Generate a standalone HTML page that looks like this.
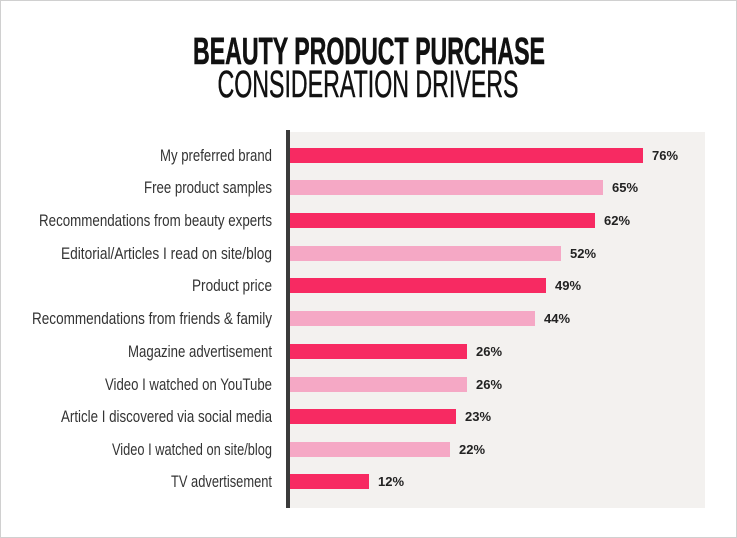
<!DOCTYPE html>
<html><head><style>body{margin:0;background:#fff}svg{display:block}</style></head><body>
<svg width="737" height="538" xmlns="http://www.w3.org/2000/svg">
<rect x="0.5" y="0.5" width="736" height="537" fill="#fff" stroke="#d0d0d0"/>
<text x="369" y="64" text-anchor="middle" font-family="Liberation Sans" font-weight="bold" font-size="38" textLength="352" lengthAdjust="spacingAndGlyphs" fill="#111" stroke="#111" stroke-width="0.6">BEAUTY PRODUCT PURCHASE</text>
<text x="368" y="97" text-anchor="middle" font-family="Liberation Sans" font-size="38" textLength="301" lengthAdjust="spacingAndGlyphs" fill="#111" stroke="#111" stroke-width="0.5">CONSIDERATION DRIVERS</text>
<rect x="290" y="132" width="415" height="376" fill="#f3f1ef"/>
<rect x="286" y="130" width="4" height="378" fill="#3a3a3a"/>
<g font-family="Liberation Sans" font-size="17" fill="#333" text-anchor="end">
<text x="272" y="161" textLength="112" lengthAdjust="spacingAndGlyphs">My preferred brand</text>
<text x="272" y="193" textLength="128" lengthAdjust="spacingAndGlyphs">Free product samples</text>
<text x="272" y="226" textLength="233" lengthAdjust="spacingAndGlyphs">Recommendations from beauty experts</text>
<text x="272" y="259" textLength="211" lengthAdjust="spacingAndGlyphs">Editorial/Articles I read on site/blog</text>
<text x="272" y="291" textLength="80" lengthAdjust="spacingAndGlyphs">Product price</text>
<text x="272" y="324" textLength="240" lengthAdjust="spacingAndGlyphs">Recommendations from friends &amp; family</text>
<text x="272" y="357" textLength="144" lengthAdjust="spacingAndGlyphs">Magazine advertisement</text>
<text x="272" y="390" textLength="167" lengthAdjust="spacingAndGlyphs">Video I watched on YouTube</text>
<text x="272" y="422" textLength="211" lengthAdjust="spacingAndGlyphs">Article I discovered via social media</text>
<text x="272" y="455" textLength="160" lengthAdjust="spacingAndGlyphs">Video I watched on site/blog</text>
<text x="272" y="487" textLength="101" lengthAdjust="spacingAndGlyphs">TV advertisement</text>
</g>
<g>
<rect x="290" y="148" width="353" height="15" fill="#f72a62"/>
<rect x="290" y="180" width="313" height="15" fill="#f5a8c5"/>
<rect x="290" y="213" width="305" height="15" fill="#f72a62"/>
<rect x="290" y="246" width="271" height="15" fill="#f5a8c5"/>
<rect x="290" y="278" width="256" height="15" fill="#f72a62"/>
<rect x="290" y="311" width="245" height="15" fill="#f5a8c5"/>
<rect x="290" y="344" width="177" height="15" fill="#f72a62"/>
<rect x="290" y="377" width="177" height="15" fill="#f5a8c5"/>
<rect x="290" y="409" width="166" height="15" fill="#f72a62"/>
<rect x="290" y="442" width="160" height="15" fill="#f5a8c5"/>
<rect x="290" y="474" width="79" height="15" fill="#f72a62"/>
</g>
<g font-family="Liberation Sans" font-weight="bold" font-size="13" fill="#222">
<text x="652" y="160">76%</text>
<text x="612" y="192">65%</text>
<text x="604" y="225">62%</text>
<text x="570" y="258">52%</text>
<text x="555" y="290">49%</text>
<text x="544" y="323">44%</text>
<text x="476" y="356">26%</text>
<text x="476" y="389">26%</text>
<text x="465" y="421">23%</text>
<text x="459" y="454">22%</text>
<text x="378" y="486">12%</text>
</g>
</svg>
</body></html>
